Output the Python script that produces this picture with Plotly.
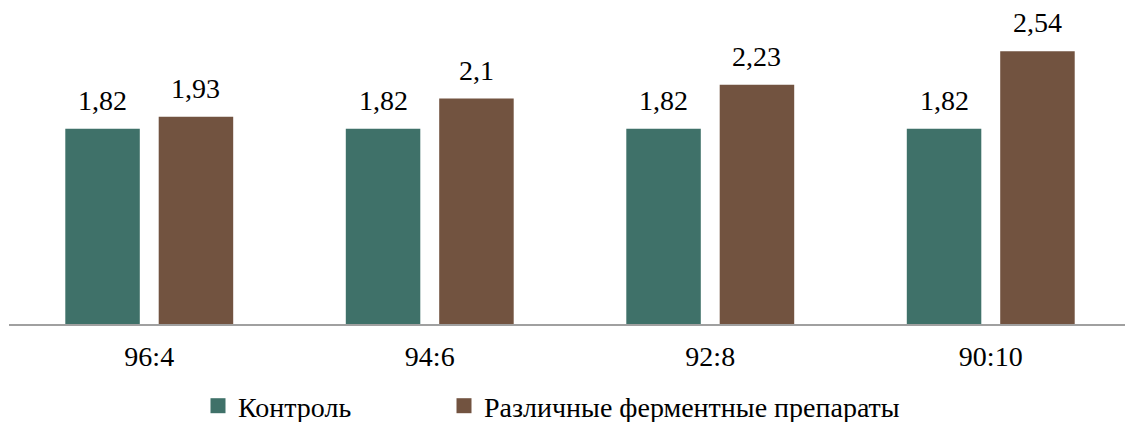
import numpy as np
import plotly.graph_objects as go

# Ratios and measured values
categories = ["96:4", "94:6", "92:8", "90:10"]
control = [1.82, 1.82, 1.82, 1.82]
enzymes = [1.93, 2.1, 2.23, 2.54]
series_names = ["Контроль", "Различные ферментные препараты"]

colors = ["#3f7169", "#725340"]
FONT = "Liberation Serif"
FS = 28

pos = np.arange(len(categories))
bar_w = 0.2656
shift = 0.1665
legend_ids = ["legend", "legend2"]

fig = go.Figure()
for vals, name, col, off, leg in [(control, series_names[0], colors[0], -shift, legend_ids[0]),
                                  (enzymes, series_names[1], colors[1], shift, legend_ids[1])]:
    fig.add_trace(go.Bar(
        x=pos + off, y=vals, width=bar_w, marker_color=col,
        marker_line_width=0, name=name, showlegend=False,
    ))
    # legend entry with a square swatch
    fig.add_trace(go.Scatter(
        x=[None], y=[None], mode="markers", name=name, legend=leg,
        marker=dict(symbol="square", size=15, color=col),
    ))
    # value labels above the bars
    for xi, v in zip(pos + off, vals):
        fig.add_annotation(
            x=xi, y=v, text=f"{v:g}".replace(".", ","), showarrow=False,
            yanchor="bottom", yshift=11,
            font=dict(family=FONT, size=FS, color="black"),
        )

legend_style = dict(
    orientation="h", xref="container", yref="container",
    y=1 - 406 / 422, xanchor="left", yanchor="middle",
    font=dict(family=FONT, size=FS, color="black"),
    itemsizing="trace", bgcolor="rgba(0,0,0,0)",
)

fig.update_layout(
    width=1125, height=422,
    margin=dict(l=9, r=0, t=2, b=98),
    paper_bgcolor="white", plot_bgcolor="white",
    barmode="overlay",
    font=dict(family=FONT, size=FS, color="black"),
    xaxis=dict(
        range=[-0.5, 3.4786], tickvals=pos, ticktext=categories,
        showline=True, linecolor="#a0a0a0", linewidth=2,
        showgrid=False, zeroline=False, ticks="",
        tickfont=dict(family=FONT, size=FS, color="black"),
        ticklabelstandoff=6,
    ),
    yaxis=dict(range=[0, 3.0], visible=False, showgrid=False, zeroline=False),
    legend=dict(x=(238 - 40) / 1125, **legend_style),
    legend2=dict(x=(484 - 40) / 1125, **legend_style),
)

fig.write_html("out.html")
